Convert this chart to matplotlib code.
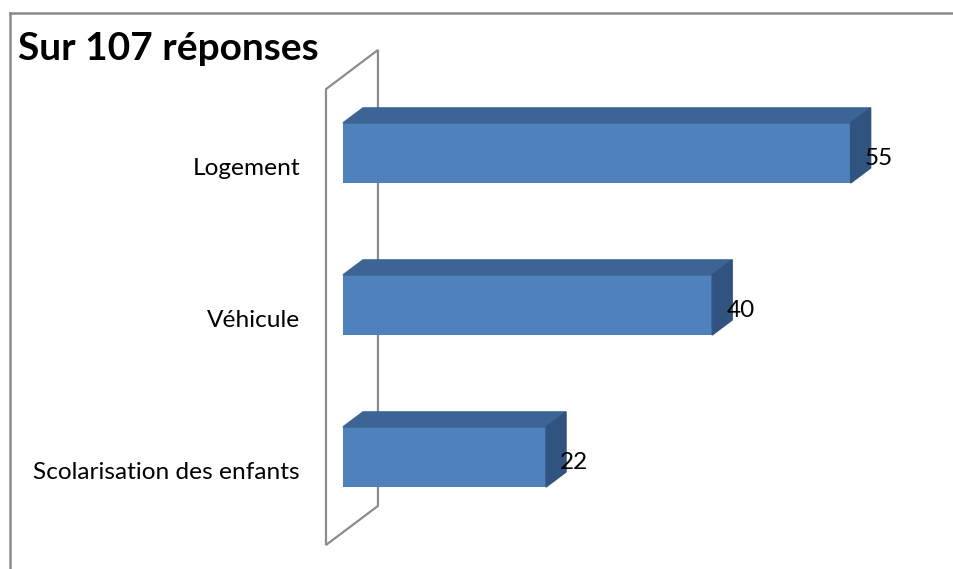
import matplotlib.pyplot as plt
from matplotlib.patches import Polygon
from matplotlib.lines import Line2D

# données
categories = ['Scolarisation des enfants', 'Véhicule', 'Logement']
valeurs = [22, 40, 55]
titre = 'Sur 107 réponses'

plt.rcParams['font.family'] = ['Lato', 'DejaVu Sans']

fig = plt.figure(figsize=(9.54, 5.69), dpi=100)
ax = fig.add_axes([0.3595, 0.0633, 0.5805, 0.8014])
ax.set_xlim(0, 60)
ax.set_ylim(-0.5, 2.5)
ax.axis('off')

# profondeur 3D (unités de données)
dx, dy = 2.17, 0.099
h = 0.395
front = '#4f81bd'
top = '#3c6494'
side = '#31537f'

# paroi (axe vertical en 3D)
wx0, wx1 = -1.84, 3.79
wall = Polygon([(wx0, -0.579), (wx0, 2.42), (wx1, 2.678), (wx1, -0.322)],
               closed=True, fill=False, edgecolor='#8c8c8c', lw=1.6,
               clip_on=False, zorder=1)
ax.add_patch(wall)

pos = range(len(categories))
ax.barh(list(pos), valeurs, height=h, color=front, zorder=3, clip_on=False)
for y, v, cat in zip(pos, valeurs, categories):
    t = y + h / 2
    b = y - h / 2
    ax.add_patch(Polygon([(0, t), (v, t), (v + dx, t + dy), (dx, t + dy)],
                         color=top, zorder=3, clip_on=False))
    ax.add_patch(Polygon([(v, b), (v + dx, b + dy), (v + dx, t + dy), (v, t)],
                         color=side, zorder=3, clip_on=False))
    ax.text(v + 1.55, y - 0.035, str(v), fontsize=17.5, va='center', ha='left',
            zorder=4)
    ax.text(-4.66, y - 0.1, cat, fontsize=17.6, va='center', ha='right')

fig.text(18 / 954, 1 - 48 / 569, titre, fontsize=28, fontweight='bold',
         va='center', ha='left')

# cadre du graphique
fig.add_artist(Line2D([10 / 954, 10 / 954], [0, 1 - 13 / 569], color='#8a8a8a', lw=1.8))
fig.add_artist(Line2D([10 / 954, 1], [1 - 13 / 569, 1 - 13 / 569], color='#8a8a8a', lw=1.8))

fig.savefig('out.png', dpi=100)
